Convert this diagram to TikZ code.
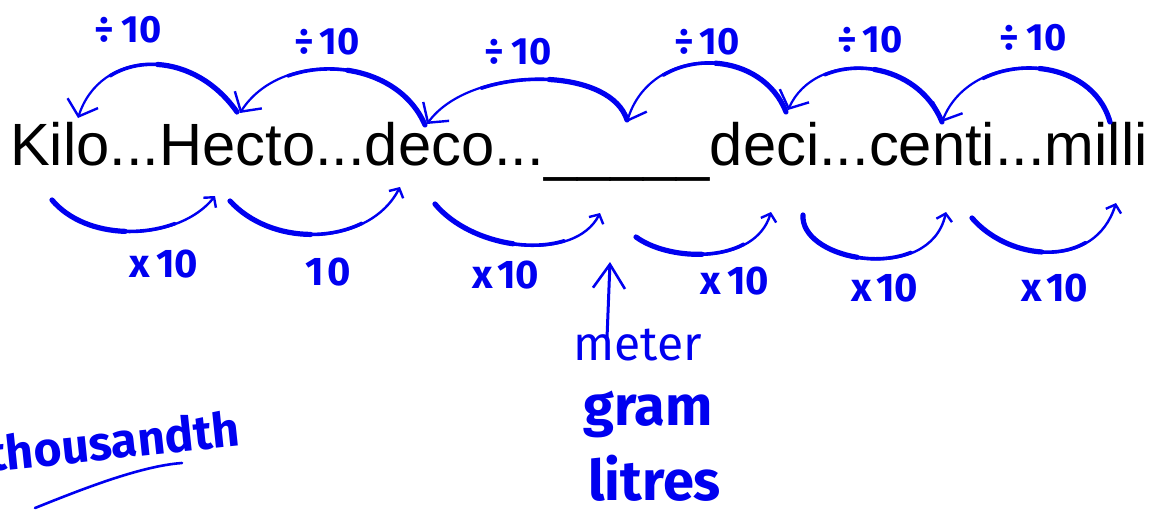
\documentclass[tikz,border=0pt]{standalone}
\usepackage{fontspec}
\setmainfont{Liberation Sans}
\newfontfamily\hand{Fira Sans}
\usetikzlibrary{arrows.meta,calc}
\definecolor{ink}{RGB}{0,0,240}
\tikzset{
  toparc/.style={draw=ink, line width=2.2pt, line cap=round, -{Straight Barb[length=14pt,width=32pt,line width=2.4pt]}},
  botarc/.style={draw=ink, line width=2.4pt, line cap=round, -{Straight Barb[length=7pt,width=16pt,line width=2.4pt]}},
  uparrow/.style={draw=ink, line width=3pt, line cap=round, -{Straight Barb[length=24pt,width=32pt,line width=2.6pt]}},
  divlab/.style={text=ink, font=\hand\bfseries\fontsize{38}{38}\selectfont, inner sep=0pt},
  mullab/.style={text=ink, font=\hand\bfseries\fontsize{40}{40}\selectfont, inner sep=0pt},
  unitlab/.style={text=ink, inner sep=0pt},
}
% first part (0..t) of a cubic curve, drawn thicker
\newcommand\subarc[6]{%
  \path ($(#3)!#1!(#4)$) coordinate (qa);
  \path ($(#4)!#1!(#5)$) coordinate (qb);
  \path ($(#5)!#1!(#6)$) coordinate (qc);
  \path ($(qa)!#1!(qb)$) coordinate (qd);
  \path ($(qb)!#1!(qc)$) coordinate (qe);
  \path ($(qd)!#1!(qe)$) coordinate (qf);
  \draw[draw=ink, line width=#2, line cap=round] (#3) .. controls (qa) and (qd) .. (qf);}
\newcommand\inkarc[5]{%
  \draw[#1] (#2) .. controls (#3) and (#4) .. (#5);
  \subarc{0.72}{3.6pt}{#2}{#3}{#4}{#5}%
  \subarc{0.45}{5.2pt}{#2}{#3}{#4}{#5}}
\begin{document}
\begin{tikzpicture}[x=1pt,y=-1pt]
\useasboundingbox (0,0) rectangle (1155,516);
\fill[white] (0,0) rectangle (1155,516);
% main scale
\node[anchor=base west, inner sep=0pt, font=\fontsize{59.66}{60}\selectfont] (scale) at (10,165)
  {Kilo...Hecto...deco...\raisebox{-4pt}{\_\_\_\_\_}deci...centi...milli};
% top arc end points
\coordinate (t1s) at (237,112); \coordinate (t1e) at (78,118);
\coordinate (t2s) at (425,125); \coordinate (t2e) at (240,113);
\coordinate (t3s) at (627,120); \coordinate (t3e) at (427,124);
\coordinate (t4s) at (786,112); \coordinate (t4e) at (627,122);
\coordinate (t5s) at (942,122); \coordinate (t5e) at (788,110);
\coordinate (t6s) at (1110,122); \coordinate (t6e) at (942,122);
\inkarc{toparc}{t1s}{190,45}{100,50}{t1e}
\inkarc{toparc}{t2s}{395,55}{280,50}{t2e}
\inkarc{toparc}{t3s}{610,65}{470,65}{t3e}
\inkarc{toparc}{t4s}{760,45}{650,45}{t4e}
\inkarc{toparc}{t5s}{915,55}{815,50}{t5e}
\inkarc{toparc}{t6s}{1090,50}{970,50}{t6e}
% bottom arc end points
\coordinate (b1s) at (52,200);  \coordinate (b1e) at (215,196);
\coordinate (b2s) at (230,201); \coordinate (b2e) at (400,187);
\coordinate (b3s) at (435,204); \coordinate (b3e) at (600,213);
\coordinate (b4s) at (636,237); \coordinate (b4e) at (771,212);
\coordinate (b5s) at (803,215); \coordinate (b5e) at (946,212);
\coordinate (b6s) at (972,218); \coordinate (b6e) at (1116,203);
\inkarc{botarc}{b1s}{90,245}{180,240}{b1e}
\inkarc{botarc}{b2s}{275,250}{370,245}{b2e}
\inkarc{botarc}{b3s}{475,252}{575,262}{b3e}
\inkarc{botarc}{b4s}{670,262}{755,265}{b4e}
\inkarc{botarc}{b5s}{800,262}{930,285}{b5e}
\inkarc{botarc}{b6s}{1010,262}{1095,270}{b6e}
% division labels
\node[divlab] (d1) at (128,30) {÷\kern8pt10};
\node[divlab] (d2) at (327,42) {÷\kern6pt10};
\node[divlab] (d3) at (518,52) {÷\kern8pt10};
\node[divlab] (d4) at (707,42) {÷\kern6pt10};
\node[divlab] (d5) at (870,40) {÷\kern6pt10};
\node[divlab] (d6) at (1033,38) {÷\kern8pt10};
% multiplication labels
\node[mullab] (m1) at (164,264) {x\kern6pt10};
\node[mullab] (m2) at (328,272) {1\kern3pt0};
\node[mullab] (m3) at (506,275) {x\kern4pt10};
\node[mullab] (m4) at (735,281) {x\kern6pt10};
\node[mullab] (m5) at (885,288) {x\kern4pt10};
\node[mullab] (m6) at (1055,288) {x\kern4pt10};
% base units
\coordinate (vs) at (607,338); \coordinate (ve) at (610,262);
\draw[uparrow] (vs) -- (ve);
\node[unitlab, anchor=base west, font=\hand\fontsize{48}{48}\selectfont] (meter) at (573,360) {meter};
\node[unitlab, anchor=base west, font=\hand\bfseries\fontsize{56}{56}\selectfont] (gram) at (583,425) {gram};
\node[unitlab, anchor=base west, font=\hand\bfseries\fontsize{56}{56}\selectfont] (litres) at (588,500) {litres};
% thousandth
\node[unitlab, anchor=base west, rotate=6, font=\hand\bfseries\fontsize{48}{48}\selectfont] (thou) at (-11,472) {thousandth};
\coordinate (u1) at (35,508); \coordinate (u2) at (182,463);
\draw[ink, line width=2.6pt, line cap=round] (u1) .. controls (80,490) and (140,466) .. (u2);
\end{tikzpicture}
\end{document}
